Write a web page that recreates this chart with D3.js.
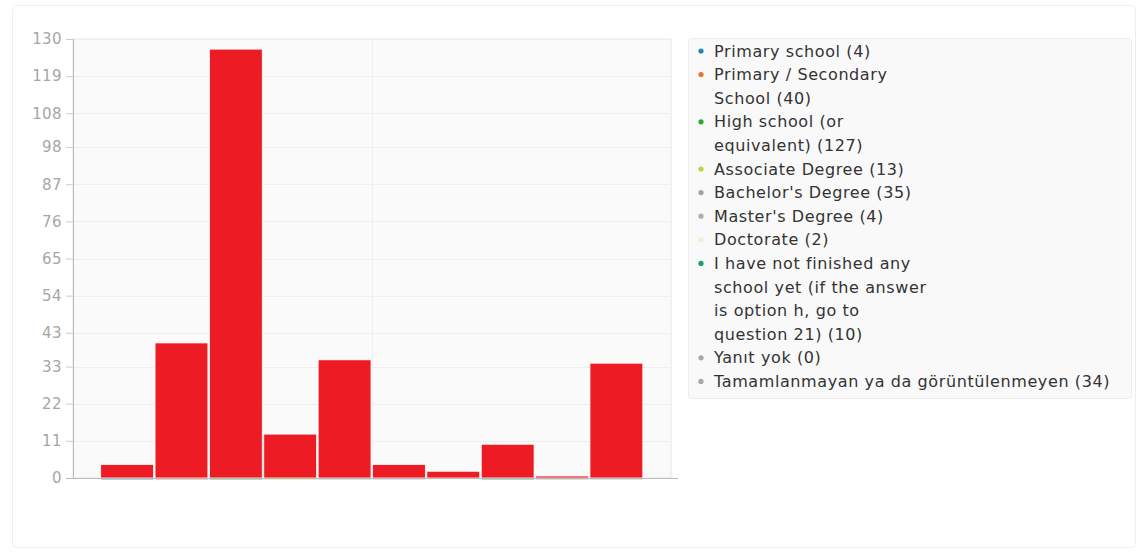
<!DOCTYPE html>
<html>
<head>
<meta charset="utf-8">
<script src="https://cdn.jsdelivr.net/npm/d3@7"></script>
<style>
  body { margin: 0; background: #fff; }
  svg { display: block; font-family: "DejaVu Sans", sans-serif; }
</style>
</head>
<body>
<script>
// education level answers (label lines as in the legend)
var categories = [
  "Primary school (4)",
  "Primary / Secondary\nSchool (40)",
  "High school (or\nequivalent) (127)",
  "Associate Degree (13)",
  "Bachelor's Degree (35)",
  "Master's Degree (4)",
  "Doctorate (2)",
  "I have not finished any\nschool yet (if the answer\nis option h, go to\nquestion 21) (10)",
  "Yanıt yok (0)",
  "Tamamlanmayan ya da görüntülenmeyen (34)"
];
var counts = [4, 40, 127, 13, 35, 4, 2, 10, 0, 34];
var seriesColors = ["#2a7fb8", "#e8703a", "#2aa83a", "#c8d040", "#9aa89a",
                    "#b0b0a8", "#eeeed0", "#1a9e77", "#a8a8a8", "#a8a8a8"];
var yTicks = [0, 11, 22, 33, 43, 54, 65, 76, 87, 98, 108, 119, 130];

var width = 1141, height = 552;
var plot = {left: 73, right: 671, top: 39, bottom: 478};

var svg = d3.select("body").append("svg")
  .attr("width", width)
  .attr("height", height);

// outer card
svg.append("rect")
  .attr("x", 12.5).attr("y", 5.5)
  .attr("width", 1123).attr("height", 542)
  .attr("rx", 4)
  .attr("fill", "#fff")
  .attr("stroke", "#eeeeee");

var x = d3.scaleLinear().domain([0, counts.length + 1]).range([plot.left, plot.right]);
var y = d3.scaleLinear().domain([0, 130]).range([plot.bottom, plot.top]);

// plot background
svg.append("rect")
  .attr("x", plot.left).attr("y", plot.top)
  .attr("width", plot.right - plot.left).attr("height", plot.bottom - plot.top)
  .attr("fill", "#fafafa")
  .attr("stroke", "#e6e6e6");

// grid
svg.append("g")
  .selectAll("line")
  .data(yTicks.slice(1))
  .join("line")
  .attr("x1", plot.left).attr("x2", plot.right)
  .attr("y1", d => Math.round(y(d)) + 0.5).attr("y2", d => Math.round(y(d)) + 0.5)
  .attr("stroke", "#efefef");
svg.append("line")
  .attr("x1", Math.round(x(5.5)) + 0.5).attr("x2", Math.round(x(5.5)) + 0.5)
  .attr("y1", plot.top).attr("y2", plot.bottom)
  .attr("stroke", "#f0f0f0");

// y axis
var yAxis = d3.axisLeft(y).tickValues(yTicks).tickSize(7).tickPadding(4);
var gy = svg.append("g")
  .attr("transform", "translate(" + plot.left + ",0)")
  .call(yAxis);
gy.select(".domain").attr("stroke", "#bbbbbb");
gy.selectAll(".tick line").attr("stroke", "#cccccc");
gy.selectAll(".tick text")
  .attr("fill", "#a6a6a6")
  .style("font-size", "15px")
  .style("letter-spacing", "0.4px")
  .style("font-family", "DejaVu Sans, sans-serif");

// bars
var bars = svg.append("g")
  .selectAll("g")
  .data(counts)
  .join("g");
bars.append("rect")
  .attr("x", (d, i) => x(i + 0.5) + 0.5)
  .attr("width", (d, i) => x(i + 1.5) - x(i + 0.5) - 1.5)
  .attr("y", d => Math.min(y(d), plot.bottom - 2))
  .attr("height", d => Math.max(plot.bottom - y(d), 2))
  .attr("fill", "#ed1c24")
  .attr("stroke", "#ffffff")
  .attr("stroke-width", 0.8);
bars.append("line")
  .attr("x1", (d, i) => x(i + 0.5) + 1)
  .attr("x2", (d, i) => x(i + 1.5) - 1)
  .attr("y1", plot.bottom + 1).attr("y2", plot.bottom + 1)
  .attr("stroke", (d, i) => seriesColors[i])
  .attr("stroke-opacity", 0.5)
  .attr("stroke-width", 1.5);

// x axis line
svg.append("line")
  .attr("x1", plot.left - 7).attr("x2", plot.right + 7)
  .attr("y1", plot.bottom + 0.5).attr("y2", plot.bottom + 0.5)
  .attr("stroke", "#bbbbbb");

// legend
var legend = svg.append("g");
legend.append("rect")
  .attr("x", 688.5).attr("y", 38.5)
  .attr("width", 443).attr("height", 360)
  .attr("rx", 3)
  .attr("fill", "#f9f9f9")
  .attr("stroke", "#ececec");

var lineH = 23.6;
var row = 0;
categories.forEach(function(label, i) {
  var lines = label.split("\n");
  var y0 = 51 + row * lineH;
  legend.append("circle")
    .attr("cx", 701).attr("cy", y0)
    .attr("r", 2.6)
    .attr("fill", seriesColors[i]);
  var t = legend.append("text")
    .attr("x", 714).attr("y", y0)
    .attr("fill", "#333333")
    .style("font-size", "16px")
    .style("letter-spacing", "0.6px");
  lines.forEach(function(l, j) {
    t.append("tspan")
      .attr("x", 714)
      .attr("dy", j === 0 ? "0.35em" : lineH)
      .text(l);
  });
  row += lines.length;
});
</script>
</body>
</html>
